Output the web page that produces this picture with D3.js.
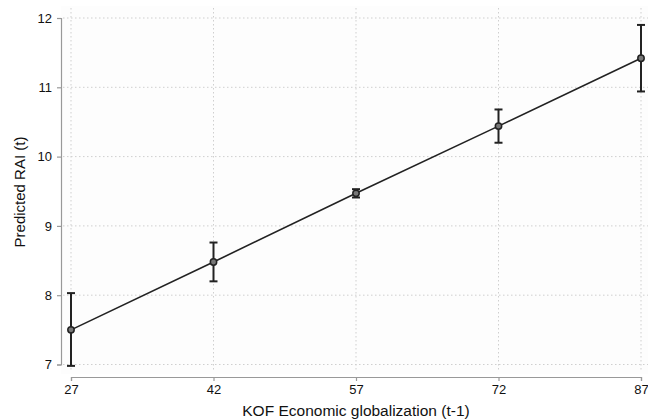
<!DOCTYPE html>
<html>
<head>
<meta charset="utf-8">
<script src="https://cdn.jsdelivr.net/npm/d3@7"></script>
<style>
  html, body { margin: 0; padding: 0; background: #fff; }
  text { font-family: "Liberation Sans", Arial, Helvetica, sans-serif; fill: #111; }
</style>
</head>
<body>
<svg id="chart" width="648" height="420"></svg>
<script>
// KOF economic globalization values (t-1)
const kof = [27, 42, 57, 72, 87];
// predicted RAI with 95% confidence bounds
const predicted = [7.50, 8.48, 9.47, 10.44, 11.42];
const lower = [6.98, 8.20, 9.41, 10.20, 10.94];
const upper = [8.03, 8.76, 9.53, 10.68, 11.90];
const yTicks = [7, 8, 9, 10, 11, 12];

const svg = d3.select("#chart");

const x = d3.scaleLinear().domain([27, 87]).range([71, 641]);
const y = d3.scaleLinear().domain([7, 12]).range([364.5, 18]);

// plot region background
svg.append("rect")
    .attr("x", 61).attr("y", 6)
    .attr("width", 587).attr("height", 368)
    .attr("fill", "#fdfdfd");

// dotted grid
svg.append("g").selectAll("line")
    .data(yTicks)
    .enter().append("line")
    .attr("x1", 63).attr("x2", 648)
    .attr("y1", d => y(d)).attr("y2", d => y(d))
    .style("stroke", "#cfcfcf")
    .style("stroke-width", 1)
    .style("stroke-dasharray", "1.5,2.5");

svg.append("g").selectAll("line")
    .data(kof)
    .enter().append("line")
    .attr("x1", d => x(d)).attr("x2", d => x(d))
    .attr("y1", 8).attr("y2", 372)
    .style("stroke", "#cfcfcf")
    .style("stroke-width", 1)
    .style("stroke-dasharray", "1.5,2.5");

// y axis
const yAxis = svg.append("g")
    .attr("transform", "translate(61,0)")
    .call(d3.axisLeft(y).tickValues(yTicks).tickSize(4).tickPadding(5).tickFormat(d3.format("d")));

// x axis
const xAxis = svg.append("g")
    .attr("transform", "translate(0,377)")
    .call(d3.axisBottom(x).tickValues(kof).tickSize(4).tickPadding(4).tickFormat(d3.format("d")));

[yAxis, xAxis].forEach(function(ax){
    ax.select(".domain").attr("stroke", "#999").attr("stroke-width", 1.2);
    ax.selectAll(".tick line").attr("stroke", "#999").attr("stroke-width", 1.2);
    ax.selectAll(".tick text")
        .style("font-size", "13px")
        .style("font-family", "'Liberation Sans', Arial, sans-serif")
        .attr("fill", "#000");
});

// axis titles
svg.append("text")
    .attr("x", 356).attr("y", 416)
    .style("text-anchor", "middle")
    .style("font-size", "15.5px")
    .text("KOF Economic globalization (t-1)");

svg.append("text")
    .attr("transform", "translate(25,192) rotate(-90)")
    .style("text-anchor", "middle")
    .style("font-size", "15px")
    .text("Predicted RAI (t)");

// fitted line
const line = d3.line()
    .x((d, i) => x(kof[i]))
    .y(d => y(d));

svg.append("path")
    .datum(predicted)
    .attr("d", line)
    .attr("fill", "none")
    .attr("stroke", "#222")
    .attr("stroke-width", 1.6);

// confidence intervals
const ci = svg.append("g").selectAll("g")
    .data(kof)
    .enter().append("g")
    .attr("stroke", "#222")
    .attr("stroke-width", 2);

ci.append("line")
    .attr("x1", d => x(d)).attr("x2", d => x(d))
    .attr("y1", (d, i) => y(lower[i])).attr("y2", (d, i) => y(upper[i]));
ci.append("line")
    .attr("x1", d => x(d) - 4).attr("x2", d => x(d) + 4)
    .attr("y1", (d, i) => y(lower[i])).attr("y2", (d, i) => y(lower[i]));
ci.append("line")
    .attr("x1", d => x(d) - 4).attr("x2", d => x(d) + 4)
    .attr("y1", (d, i) => y(upper[i])).attr("y2", (d, i) => y(upper[i]));

// point markers
svg.append("g").selectAll("circle")
    .data(kof)
    .enter().append("circle")
    .attr("cx", d => x(d))
    .attr("cy", (d, i) => y(predicted[i]))
    .attr("r", 3.2)
    .attr("fill", "#777")
    .attr("stroke", "#222")
    .attr("stroke-width", 1.5);
</script>
</body>
</html>
